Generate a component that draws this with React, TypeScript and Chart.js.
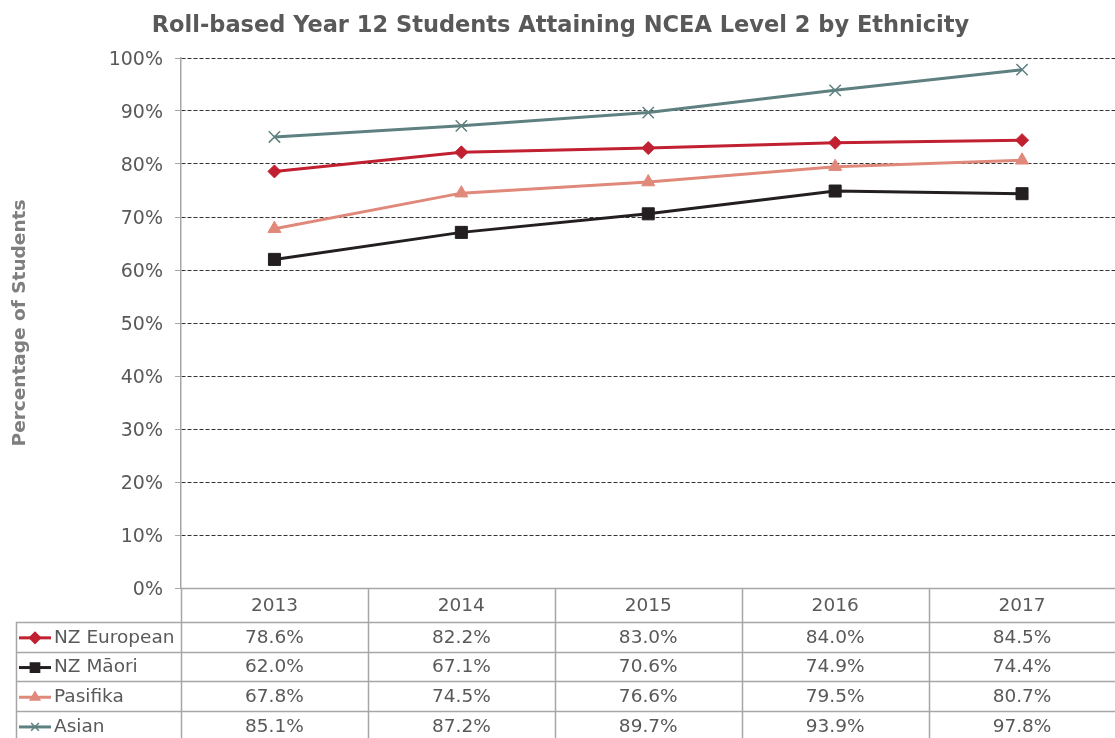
import React, { useEffect, useRef } from "react";
import { Chart, registerables } from "chart.js";
import { drawPoint } from "chart.js/helpers";

Chart.register(...registerables);

const years = ["2013", "2014", "2015", "2016", "2017"];
const nzEuropean = [78.6, 82.2, 83.0, 84.0, 84.5];
const nzMaori = [62.0, 67.1, 70.6, 74.9, 74.4];
const pasifika = [67.8, 74.5, 76.6, 79.5, 80.7];
const asian = [85.1, 87.2, 89.7, 93.9, 97.8];
const seriesNames = ["NZ European", "NZ Māori", "Pasifika", "Asian"];
const seriesColors = ["#C0202F", "#231F20", "#E0897A", "#5F8081"];
const seriesMarkers = ["rectRot", "rect", "triangle", "crossRot"];
const seriesRadius = [6.5, 8.5, 7.5, 8];
const seriesValues = [nzEuropean, nzMaori, pasifika, asian];
const chartTitle = "Roll-based Year 12 Students Attaining NCEA Level 2 by Ethnicity";
const yTitle = "Percentage of Students";

const FONT = "'DejaVu Sans', Verdana, sans-serif";
const TEXT = "#595959";
const LINE = "#A6A6A6";

const tablePlugin = {
  id: "dataTable",
  afterDraw(chart: any) {
    const ctx = chart.ctx;
    const area = chart.chartArea;
    const xs = chart.scales.x;
    const top = area.bottom;
    const headerH = 34;
    const rowH = 29.7;
    const leftEdge = 16;
    const right = chart.width;
    const centers = years.map((_, i) => xs.getPixelForValue(i));
    const bounds: number[] = [area.left];
    for (let i = 1; i < centers.length; i++) bounds.push((centers[i - 1] + centers[i]) / 2);
    bounds.push(area.right);
    const bottom = top + headerH + rowH * seriesNames.length;

    ctx.save();
    ctx.strokeStyle = LINE;
    ctx.lineWidth = 1.5;
    ctx.beginPath();
    ctx.moveTo(area.left, top + 0.5);
    ctx.lineTo(right, top + 0.5);
    for (let r = 0; r <= seriesNames.length; r++) {
      const y = Math.round(top + headerH + r * rowH) + 0.5;
      ctx.moveTo(leftEdge, y);
      ctx.lineTo(right, y);
    }
    bounds.forEach((b) => {
      ctx.moveTo(Math.round(b) + 0.5, top);
      ctx.lineTo(Math.round(b) + 0.5, bottom);
    });
    ctx.moveTo(leftEdge + 0.5, top + headerH);
    ctx.lineTo(leftEdge + 0.5, bottom);
    ctx.stroke();

    ctx.fillStyle = TEXT;
    ctx.font = `18.5px ${FONT}`;
    ctx.textAlign = "center";
    ctx.textBaseline = "middle";
    years.forEach((y, i) => ctx.fillText(y, centers[i], top + headerH / 2 + 1));

    seriesNames.forEach((name, r) => {
      const cy = top + headerH + r * rowH + rowH / 2 + 1;
      const color = seriesColors[r];
      ctx.strokeStyle = color;
      ctx.lineWidth = 3;
      ctx.beginPath();
      ctx.moveTo(19, cy);
      ctx.lineTo(51, cy);
      ctx.stroke();
      ctx.fillStyle = color;
      ctx.strokeStyle = color;
      ctx.lineWidth = 1.5;
      drawPoint(ctx, { pointStyle: seriesMarkers[r], radius: r === 1 ? 6.5 : 5.5, borderWidth: 1.5, rotation: 0 }, 35, cy);
      ctx.fillStyle = TEXT;
      ctx.textAlign = "left";
      ctx.fillText(name, 54, cy);
      ctx.textAlign = "center";
      seriesValues[r].forEach((v, i) => ctx.fillText(v.toFixed(1) + "%", centers[i], cy));
    });
    ctx.restore();
  },
};

export default function App() {
  const ref = useRef<HTMLCanvasElement | null>(null);
  useEffect(() => {
    document.body.style.margin = "0";
    const canvas = ref.current!;
    const chart = new Chart(canvas, {
      type: "line",
      data: {
        labels: years,
        datasets: seriesNames.map((name, i) => ({
          label: name,
          data: seriesValues[i],
          borderColor: seriesColors[i],
          backgroundColor: seriesColors[i],
          pointStyle: seriesMarkers[i] as any,
          pointRadius: seriesRadius[i],
          pointBorderWidth: i === 3 ? 1.5 : 1,
          borderWidth: 3,
          tension: 0,
        })),
      },
      options: {
        responsive: false,
        animation: false,
        devicePixelRatio: 1,
        layout: { padding: { top: 0, right: 4, bottom: 150, left: 0 } },
        plugins: {
          legend: { display: false },
          tooltip: { enabled: false },
          title: {
            display: true,
            text: chartTitle,
            color: TEXT,
            font: { family: FONT, size: 22.5, weight: "bold", lineHeight: 1.2 },
            padding: { top: 13, bottom: 18 },
          },
        },
        scales: {
          x: {
            display: false,
            offset: true,
          },
          y: {
            min: 0,
            max: 100,
            afterFit(scale: any) {
              scale.width = 181;
            },
            ticks: {
              stepSize: 10,
              color: TEXT,
              padding: 12,
              labelOffset: 2,
              font: { family: FONT, size: 19 },
              callback: (v: any) => v + "%",
            },
            border: { display: true, color: LINE, width: 1.5, dash: [4, 2] },
            grid: {
              color: (c: any) => (c.tick && c.tick.value === 0 ? "rgba(0,0,0,0)" : "#333333"),
              lineWidth: 1,
              tickLength: 6,
              tickColor: LINE,
              tickBorderDash: [],
            },
            title: {
              display: true,
              text: yTitle,
              color: "#7F7F7F",
              font: { family: FONT, size: 18.5, weight: "bold", lineHeight: 1.2 },
              padding: { top: 9, bottom: 0 },
            },
          },
        },
      },
      plugins: [tablePlugin],
    });
    return () => chart.destroy();
  }, []);
  return (
    <div style={{ position: "absolute", left: 0, top: 0, width: 1115, height: 738, overflow: "hidden", background: "#fff" }}>
      <canvas ref={ref} width={1125} height={738} style={{ display: "block" }} />
    </div>
  );
}
